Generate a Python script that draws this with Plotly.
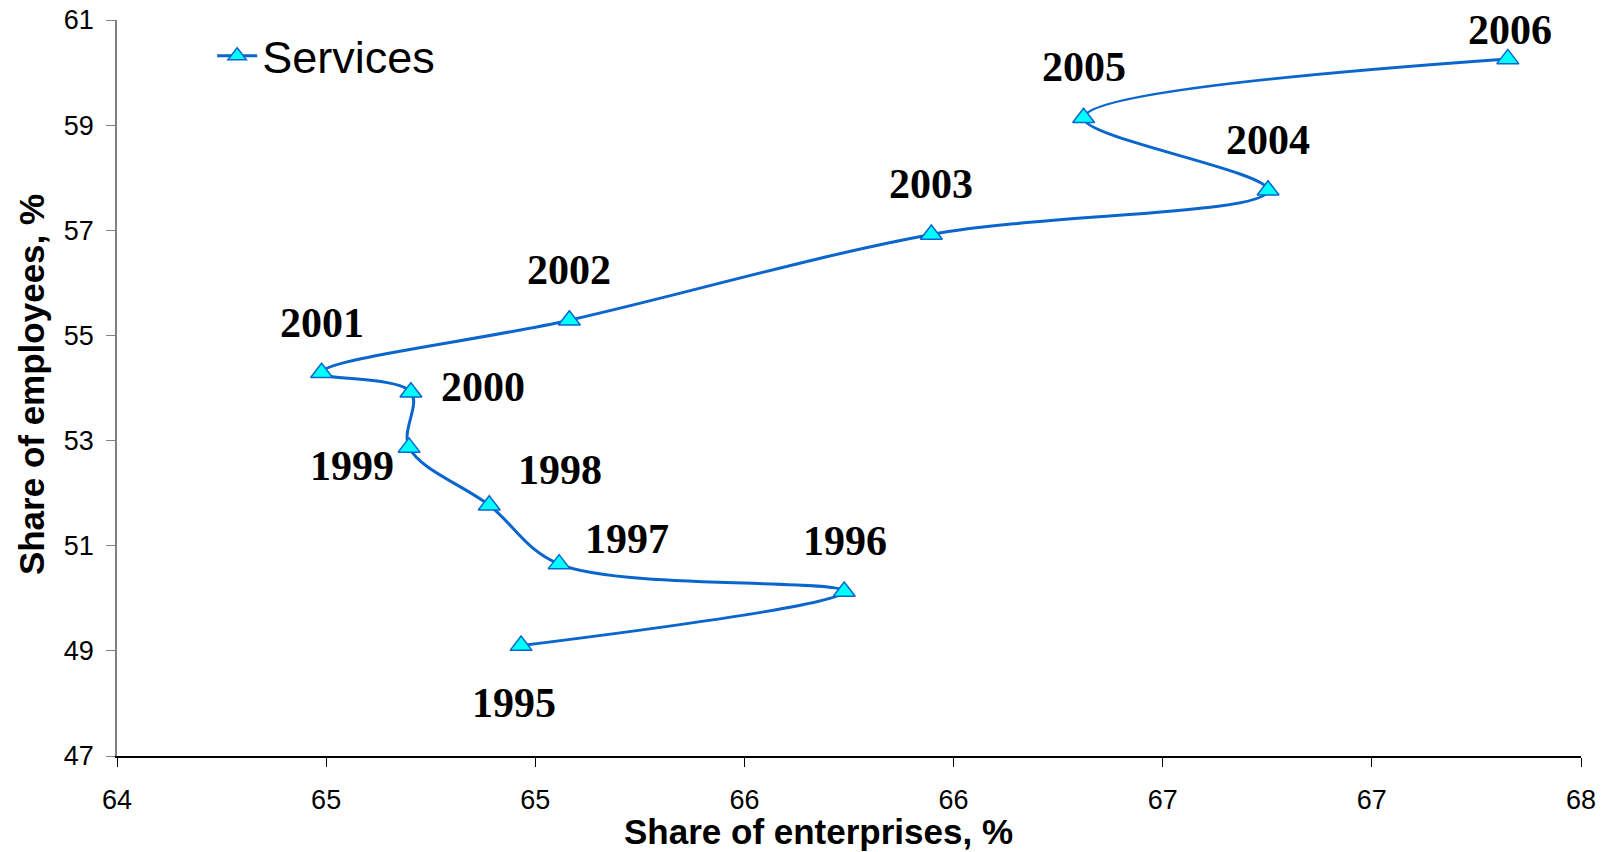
import plotly.graph_objects as go

# Data
years = ["1995", "1996", "1997", "1998", "1999", "2000", "2001", "2002", "2003", "2004", "2005", "2006"]
share_enterprises = [65.104, 65.987, 65.208, 65.017, 64.798, 64.803, 64.559, 65.236, 66.225, 67.145, 66.641, 67.800]
share_employees = [49.10, 50.13, 50.65, 51.77, 52.87, 53.92, 54.29, 55.29, 56.92, 57.76, 59.14, 60.26]

x_tick_vals = [64 + i * 4 / 7 for i in range(8)]
x_tick_text = ["64", "65", "65", "66", "66", "67", "67", "68"]
y_tick_vals = [47, 49, 51, 53, 55, 57, 59, 61]

# label offsets in pixels (styling)
label_shift = {
    "1995": (-7, -57), "1996": (1, 50), "1997": (68, 25), "1998": (71, 35),
    "1999": (-57, -19), "2000": (72, 5), "2001": (0, 50), "2002": (0, 50),
    "2003": (0, 50), "2004": (0, 50), "2005": (0, 51), "2006": (2, 29),
}

fig = go.Figure()
fig.add_trace(go.Scatter(
    x=share_enterprises, y=share_employees,
    mode="lines+markers", name="Services",
    line=dict(color="#0A66CC", width=3, shape="spline", smoothing=1.0),
    marker=dict(symbol="triangle-up", size=19, color="#00FFFF",
                line=dict(color="#0A66CC", width=1.5)),
))

for yr, xv, yv in zip(years, share_enterprises, share_employees):
    dx, dy = label_shift[yr]
    fig.add_annotation(x=xv, y=yv, text=f"<b>{yr}</b>", showarrow=False,
                       xshift=dx, yshift=dy,
                       font=dict(family="Liberation Serif, Times New Roman, serif", size=42, color="black"))

# axis titles
fig.add_annotation(xref="paper", yref="paper", x=0.479, y=-0.102, xanchor="center", yanchor="middle",
                   text="<b>Share of enterprises, %</b>", showarrow=False,
                   font=dict(size=35, color="black"))
fig.add_annotation(xref="paper", yref="paper", x=-0.0587, y=0.504, xanchor="center", yanchor="middle",
                   text="<b>Share of employees, %</b>", showarrow=False, textangle=-90,
                   font=dict(size=35, color="black"))

fig.update_layout(
    width=1604, height=852,
    margin=dict(l=117, r=23, t=20, b=96),
    paper_bgcolor="white", plot_bgcolor="white",
    font=dict(family="Liberation Sans, Arial, sans-serif", color="black"),
    showlegend=True,
    legend=dict(x=0.065, y=1.0, xanchor="left", yanchor="top",
                font=dict(size=45, family="Liberation Sans, Arial, sans-serif"),
                bgcolor="rgba(0,0,0,0)", itemwidth=40),
    xaxis=dict(range=[64, 68], tickvals=x_tick_vals, ticktext=x_tick_text,
               showgrid=False, zeroline=False, showline=True, linecolor="black", linewidth=1.5,
               ticks="outside", ticklen=9, tickcolor="black", automargin=False,
               tickfont=dict(size=27), ticklabelstandoff=10),
    yaxis=dict(range=[47, 61], tickvals=y_tick_vals,
               showgrid=False, zeroline=False, showline=True, linecolor="#808080", linewidth=1.5,
               ticks="outside", ticklen=9, tickcolor="#808080", automargin=False,
               tickfont=dict(size=27), ticklabelstandoff=7),
)

fig.write_html("out.html", config={"displayModeBar": False},
               post_script="document.body.style.margin='0';document.body.style.overflow='hidden';")
